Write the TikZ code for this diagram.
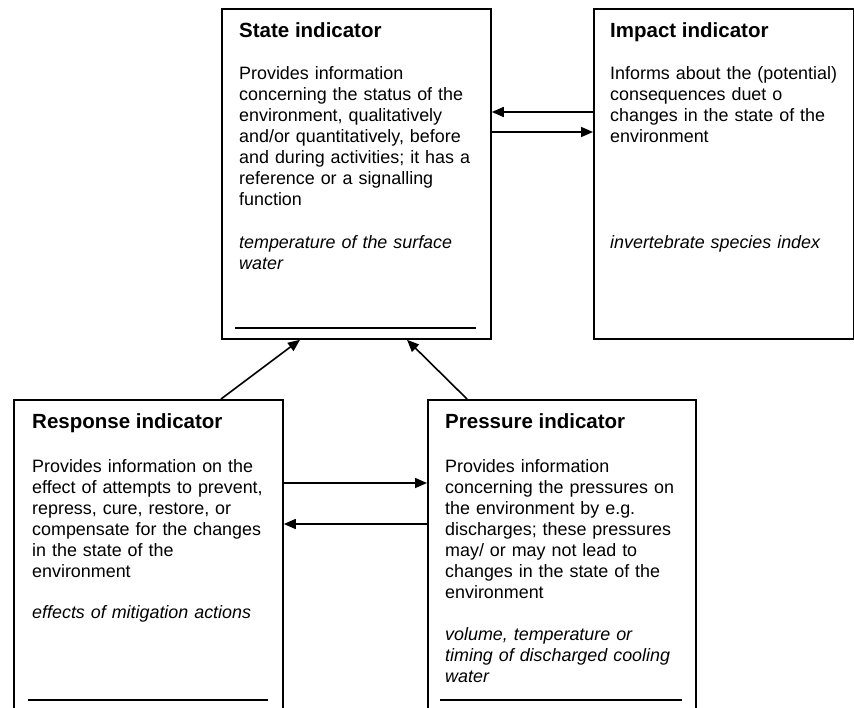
\documentclass[tikz,border=0pt]{standalone}
\usepackage{fontspec}
\setmainfont{Liberation Sans}
\usetikzlibrary{arrows.meta}
\begin{document}
\begin{tikzpicture}[x=1pt,y=-1pt,
  box/.style={draw,line width=1.8pt,rectangle,inner sep=0pt,anchor=north west},
  title/.style={anchor=base west,inner sep=0pt,font=\fontsize{20.5}{21}\selectfont\bfseries},
  body/.style={anchor=base west,inner sep=0pt,text width=330pt,align=left,font=\fontsize{17.9}{21}\selectfont},
  example/.style={body,font=\fontsize{17.9}{21}\selectfont\itshape},
  arr/.style={line width=1.6pt,-{Triangle[length=12pt,width=10pt]}},
  rule/.style={line width=1.8pt}]
\useasboundingbox (0,0) rectangle (854,707);
\clip (0,0) rectangle (854,707);

% boxes
\node[box,minimum width=269pt,minimum height=330pt] (state) at (221,8) {};
\node[box,minimum width=260pt,minimum height=330pt] (impact) at (593,8) {};
\node[box,minimum width=269pt,minimum height=330pt] (response) at (13,399) {};
\node[box,minimum width=268pt,minimum height=330pt] (pressure) at (427,399) {};

% rules near the bottom of the boxes
\draw[rule] (235,328) coordinate (s1) -- (476,328) coordinate (s2);
\draw[rule] (28,700) coordinate (r1) -- (268,700) coordinate (r2);
\draw[rule] (440,700) coordinate (p1) -- (682,700) coordinate (p2);

% State indicator
\node[title] (stateT) at (239,37) {State indicator};
\node[body] (stateB) at (239,79) {Provides information\\concerning the status of the\\environment, qualitatively\\and/or quantitatively, before\\and during activities; it has a\\reference or a signalling\\function};
\node[example] (stateE) at (239,248) {temperature of the surface\\water};

% Impact indicator
\node[title] (impactT) at (610,37) {Impact indicator};
\node[body] (impactB) at (610,79) {Informs about the (potential)\\consequences duet o\\changes in the state of the\\environment};
\node[example] (impactE) at (610,248) {invertebrate species index};

% Response indicator
\node[title] (responseT) at (32,428) {Response indicator};
\node[body] (responseB) at (32,472) {Provides information on the\\effect of attempts to prevent,\\repress, cure, restore, or\\compensate for the changes\\in the state of the\\environment};
\node[example] (responseE) at (32,618) {effects of mitigation actions};

% Pressure indicator
\node[title] (pressureT) at (445,428) {Pressure indicator};
\node[body] (pressureB) at (445,472) {Provides information\\concerning the pressures on\\the environment by e.g.\\discharges; these pressures\\may/ or may not lead to\\changes in the state of the\\environment};
\node[example] (pressureE) at (445,640) {volume, temperature or\\timing of discharged cooling\\water};

% connectors
\draw[arr] (impact.west |- 0,112) -- (state.east |- 0,112);
\draw[arr] (state.east |- 0,132) -- (impact.west |- 0,132);
\draw[arr] (response.east |- 0,483) -- (pressure.west |- 0,483);
\draw[arr] (pressure.west |- 0,524) -- (response.east |- 0,524);
\draw[arr] (221,0 |- response.north) -- (300,0 |- state.south);
\draw[arr] (467,0 |- pressure.north) -- (407,0 |- state.south);
\end{tikzpicture}
\end{document}
